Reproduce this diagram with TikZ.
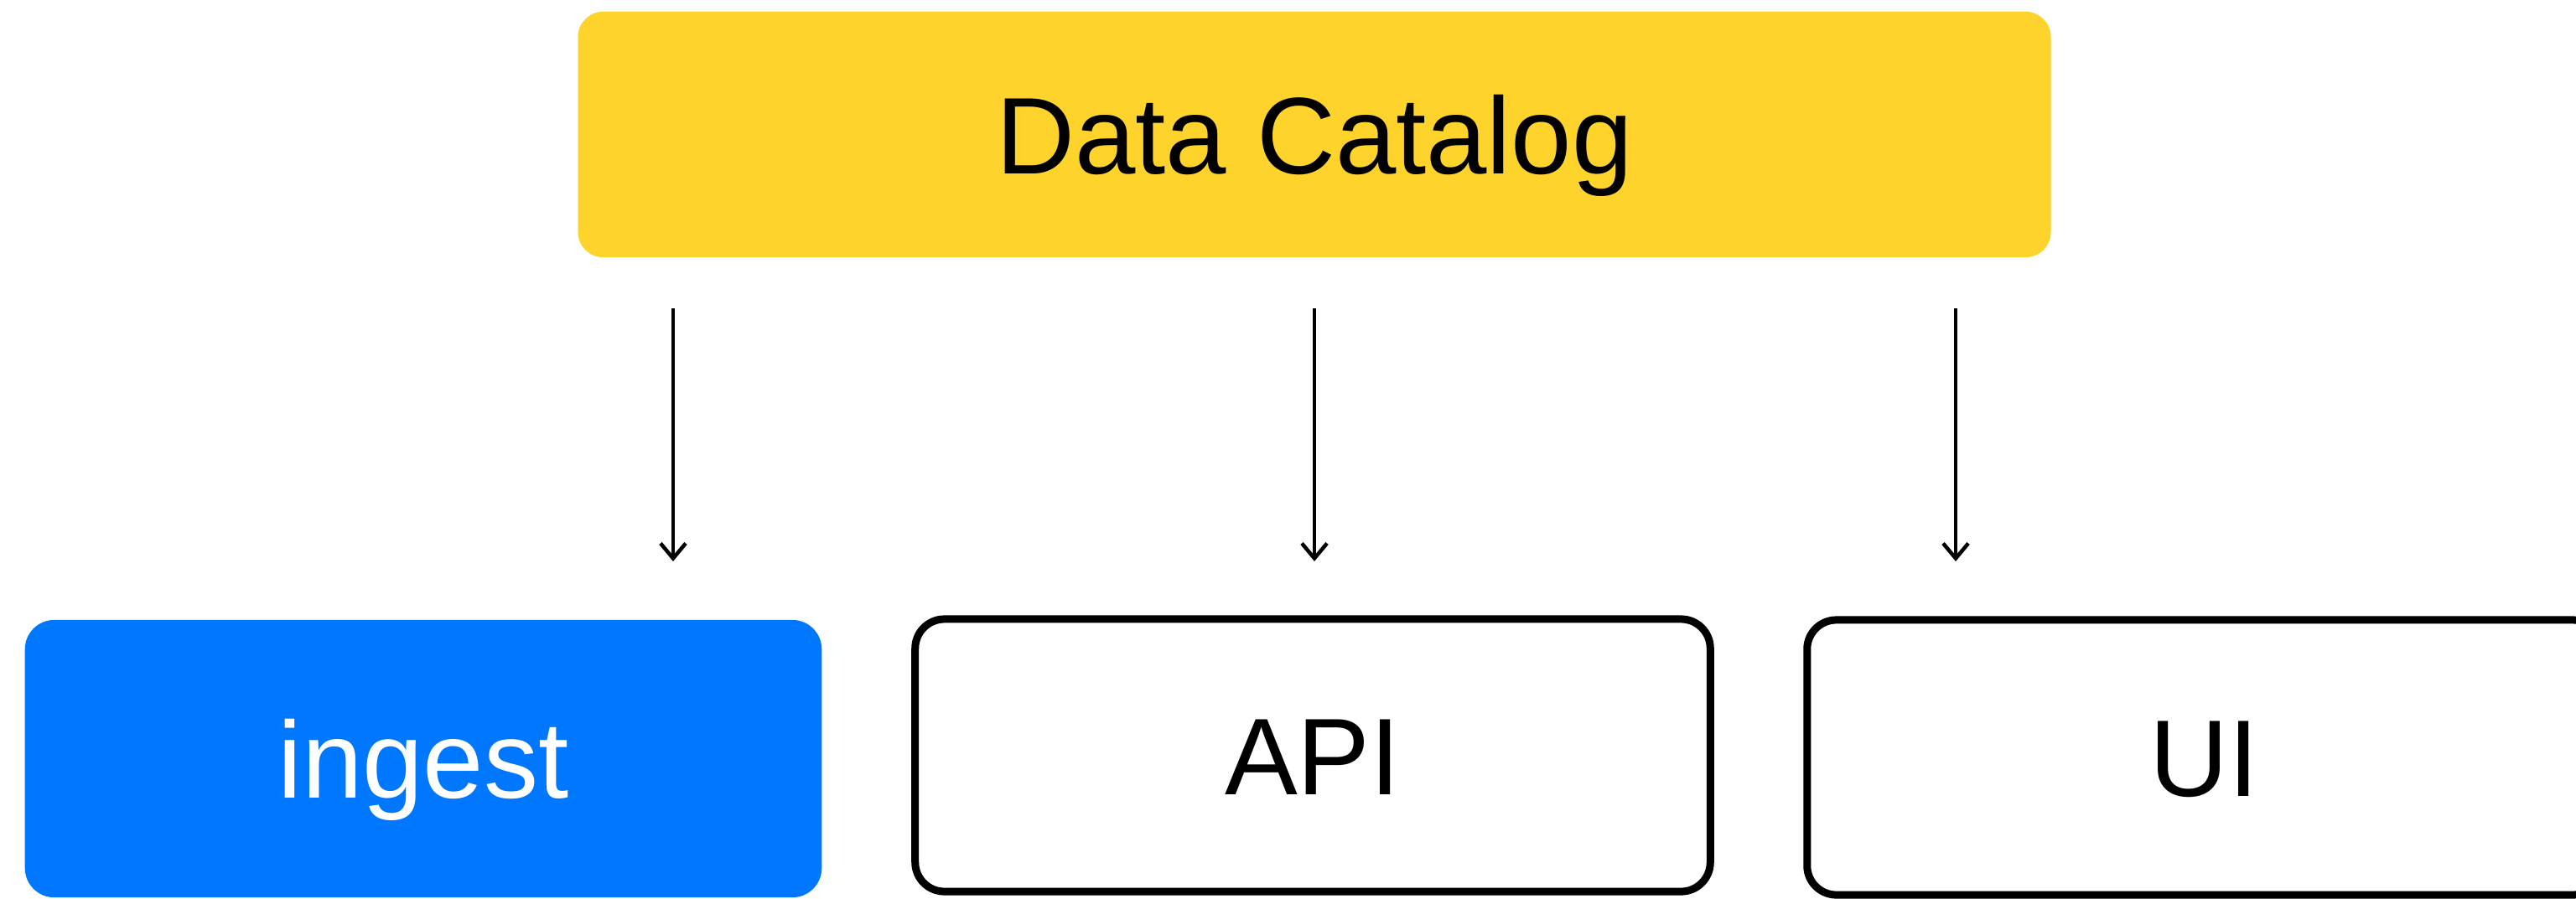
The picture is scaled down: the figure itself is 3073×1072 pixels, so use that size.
\documentclass[tikz,border=0pt]{standalone}
\usepackage{fontspec}
\setmainfont{Liberation Sans}
\usetikzlibrary{arrows.meta}
\definecolor{catyellow}{RGB}{254,211,43}
\definecolor{ingestblue}{RGB}{0,119,255}
\tikzset{
  label font/.style={font=\fontsize{37pt}{42pt}\selectfont, text height=26.5pt, text depth=0pt, inner sep=0pt},
  catalogbox/.style={label font, fill=catyellow, rounded corners=0.3cm, minimum width=17.56cm, minimum height=2.93cm},
  filledbox/.style={label font, fill=ingestblue, text=white, rounded corners=0.35cm, minimum width=9.5cm, minimum height=3.31cm},
  outlinebox/.style={label font, draw=black, line width=0.09cm, rounded corners=0.35cm, minimum width=9.48cm},
  flowarrow/.style={draw=black, line width=0.045cm, -{Straight Barb[length=0.18cm, width=0.3cm]}}
}
\begin{document}
\begin{tikzpicture}[x=0.01cm, y=-0.01cm]
  \useasboundingbox (0,0) rectangle (3073,1072);

  % catalog on top
  \node[catalogbox] (catalog) at (1568,160.5) {Data Catalog};

  % consumers below
  \node[filledbox] (ingest) at (505,905.5) {ingest};
  \node[outlinebox, minimum height=3.25cm] (api) at (1566,901.5) {API};
  \node[outlinebox, minimum height=3.28cm] (ui) at (2630,904) {UI};

  % free-standing arrows between the rows
  \coordinate (ingestfrom) at (803,368);
  \coordinate (ingestto) at (803,670);
  \coordinate (apifrom) at (1568,368);
  \coordinate (apito) at (1568,670);
  \coordinate (uifrom) at (2333,368);
  \coordinate (uito) at (2333,670);

  \draw[flowarrow] (ingestfrom) -- (ingestto);
  \draw[flowarrow] (apifrom) -- (apito);
  \draw[flowarrow] (uifrom) -- (uito);
\end{tikzpicture}
\end{document}
